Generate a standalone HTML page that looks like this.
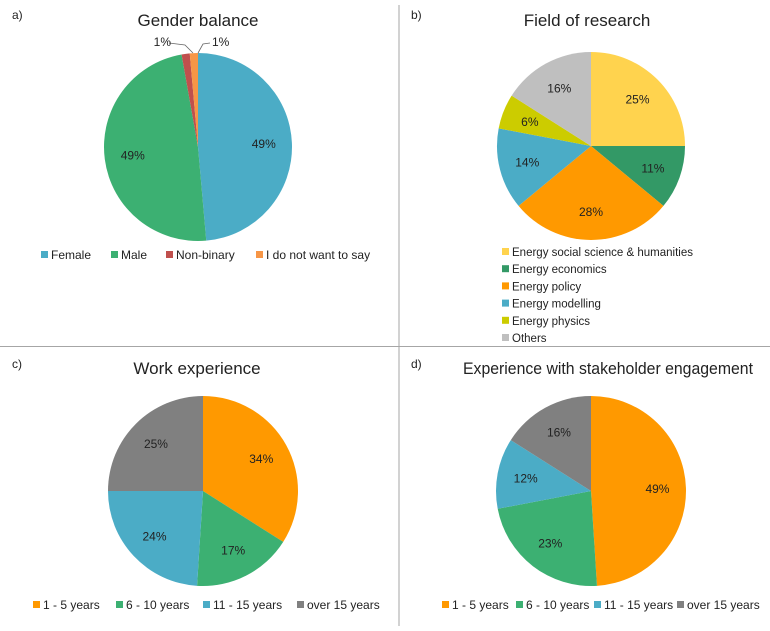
<!DOCTYPE html>
<html><head><meta charset="utf-8">
<style>
html,body{margin:0;padding:0;background:#fff;}
body{width:770px;height:626px;overflow:hidden;font-family:"Liberation Sans",sans-serif;}
svg text{font-family:"Liberation Sans",sans-serif;fill:#222;}
</style></head>
<body>
<svg id="chart" width="770" height="626" viewBox="0 0 770 626" xmlns="http://www.w3.org/2000/svg">
<line x1="399" y1="5" x2="399" y2="626" stroke="#a6a6a6" stroke-width="1"/>
<line x1="0" y1="346.5" x2="770" y2="346.5" stroke="#a6a6a6" stroke-width="1"/>
<text x="12" y="19" font-size="12">a)</text>
<text x="411" y="19" font-size="12">b)</text>
<text x="12" y="368" font-size="12">c)</text>
<text x="411" y="368" font-size="12">d)</text>
<text x="198" y="26" font-size="17" text-anchor="middle">Gender balance</text>
<text x="587" y="26" font-size="17" text-anchor="middle">Field of research</text>
<text x="197" y="374" font-size="17" text-anchor="middle">Work experience</text>
<text x="463" y="374" font-size="17" textLength="290" lengthAdjust="spacingAndGlyphs">Experience with stakeholder engagement</text>
<g id="pies"></g>
</svg>
<script>
const genderCats = ["Female","Male","Non-binary","I do not want to say"];
const genderVals = [48.6,48.6,1.4,1.4];
const genderLabels = ["49%","49%","1%","1%"];
const genderColors = ["#4bacc6","#3cb072","#c0504d","#f79646"];

const fieldCats = ["Energy social science & humanities","Energy economics","Energy policy","Energy modelling","Energy physics","Others"];
const fieldVals = [25,11,28,14,6,16];
const fieldLabels = ["25%","11%","28%","14%","6%","16%"];
const fieldColors = ["#ffd34e","#339966","#ff9900","#4bacc6","#cccc00","#bfbfbf"];

const workCats = ["1 - 5 years","6 - 10 years","11 - 15 years","over 15 years"];
const workVals = [34,17,24,25];
const workLabels = ["34%","17%","24%","25%"];
const workColors = ["#ff9900","#3cb072","#4bacc6","#808080"];

const stakeCats = ["1 - 5 years","6 - 10 years","11 - 15 years","over 15 years"];
const stakeVals = [49,23,12,16];
const stakeLabels = ["49%","23%","12%","16%"];
const stakeColors = ["#ff9900","#3cb072","#4bacc6","#808080"];

const NS="http://www.w3.org/2000/svg";
const root=document.getElementById('pies');
function mk(tag,attrs){const e=document.createElementNS(NS,tag);for(const k in attrs)e.setAttribute(k,attrs[k]);return e;}

function pie(id,cx,cy,r,vals,labels,colors,cats,skipLabels){
  const g=mk('g',{});
  
  
  root.appendChild(g);
  const tot=vals.reduce((a,b)=>a+b,0);
  let a0=0;
  vals.forEach((v,i)=>{
    const a1=a0+v/tot*2*Math.PI;
    const x0=cx+r*Math.sin(a0),y0=cy-r*Math.cos(a0);
    const x1=cx+r*Math.sin(a1),y1=cy-r*Math.cos(a1);
    const large=(a1-a0)>Math.PI?1:0;
    const p=mk('path',{d:`M${cx},${cy} L${x0},${y0} A${r},${r} 0 ${large} 1 ${x1},${y1} Z`,fill:colors[i]});
    
    
    g.appendChild(p);
    if(!skipLabels||!skipLabels.includes(i)){
      const am=(a0+a1)/2;
      const t=mk('text',{x:cx+0.7*r*Math.sin(am),y:cy-0.7*r*Math.cos(am)+4,'font-size':'12','text-anchor':'middle'});
      t.textContent=labels[i];
      
      
      g.appendChild(t);
    }
    a0=a1;
  });
}
function legendRow(id,y,xs,cats,colors){
  cats.forEach((c,i)=>{
    const r=mk('rect',{x:xs[i],y:y-8,width:7,height:7,fill:colors[i]});
    
    
    root.appendChild(r);
    const t=mk('text',{x:xs[i]+10,y:y,'font-size':'12'});
    t.textContent=c;
    
    
    root.appendChild(t);
  });
}
pie('gender',198,147,94,genderVals,genderLabels,genderColors,genderCats,[2,3]);
[[160,46,"end",genderLabels[2],"M169,43 L185,45 L193,53"],[212,46,"start",genderLabels[3],"M210,43 L203,44 L198,53"]].forEach(d=>{
  const l=mk('path',{d:d[4],fill:'none',stroke:'#666','stroke-width':'0.8'});
  
  
  root.appendChild(l);
  const t=mk('text',{x:d[2]==="end"?171:d[0],y:d[1],'font-size':'12','text-anchor':d[2]==="end"?"end":"start"});
  t.textContent=d[3];
  
  
  root.appendChild(t);
});
legendRow('gender',259,[41,111,166,256],genderCats,genderColors);

pie('field',591,146,94,fieldVals,fieldLabels,fieldColors,fieldCats);
fieldCats.forEach((c,i)=>{
  const y=256+i*17.2;
  const r=mk('rect',{x:502,y:y-8,width:7,height:7,fill:fieldColors[i]});
  
  
  root.appendChild(r);
  const t=mk('text',{x:512,y:y,'font-size':'12',transform:`translate(512,0) scale(0.96,1) translate(-512,0)`});
  t.textContent=c;
  
  
  root.appendChild(t);
});

pie('work',203,491,95,workVals,workLabels,workColors,workCats);
legendRow('work',609,[33,116,203,297],workCats,workColors);

pie('stake',591,491,95,stakeVals,stakeLabels,stakeColors,stakeCats);
legendRow('stake',609,[442,516,594,677],stakeCats,stakeColors);
</script>
</body></html>
